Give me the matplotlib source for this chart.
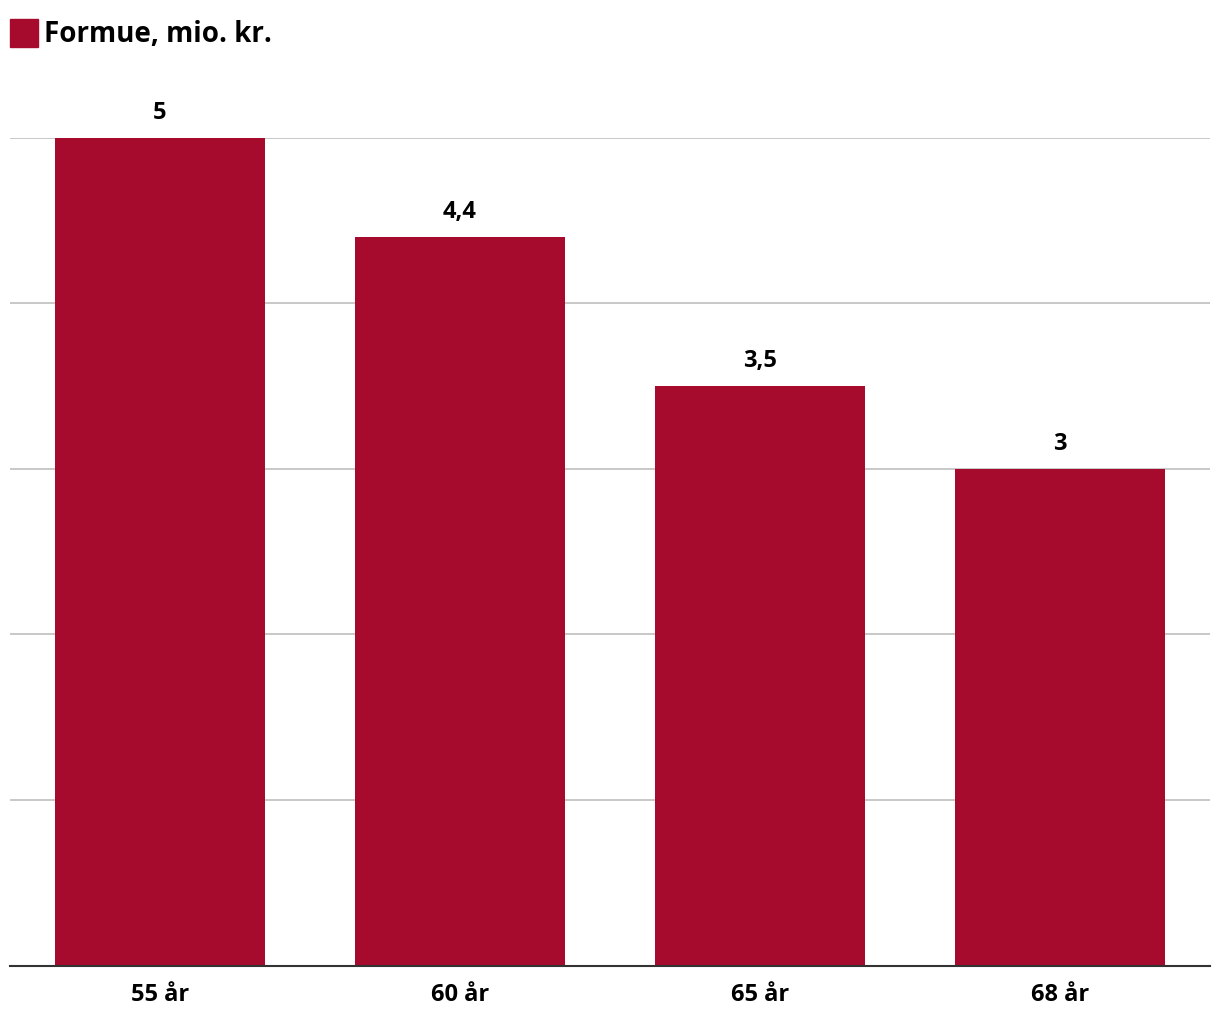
import os
import numpy as np
import matplotlib.pyplot as plt
from matplotlib.patches import Rectangle
from matplotlib.font_manager import FontProperties

BOLD = '/usr/share/fonts/truetype/open-sans/OpenSans-Bold.ttf'


def font(size):
    if os.path.exists(BOLD):
        return FontProperties(fname=BOLD, size=size)
    return FontProperties(family=['Open Sans', 'DejaVu Sans'], weight='bold', size=size)


categories = ['55 år', '60 år', '65 år', '68 år']
values = [5, 4.4, 3.5, 3]
labels = ['5', '4,4', '3,5', '3']
series_name = 'Formue, mio. kr.'
bar_color = '#A60B2E'

fig = plt.figure(figsize=(12.2, 10.2), dpi=100)
ax = fig.add_axes([10 / 1220, 53.5 / 1020, 1200 / 1220, (965 - 137) / 1020])

x = np.arange(len(categories))
ax.bar(x, values, width=0.7, color=bar_color, zorder=2)

for xi, v, lab in zip(x, values, labels):
    ax.annotate(lab, (xi, v), xytext=(0, 10), textcoords='offset points',
                ha='center', va='bottom', fontproperties=font(17),
                annotation_clip=False)

ax.set_xlim(-0.5, len(categories) - 0.5)
ax.set_ylim(0, 5)
ax.set_yticks([0, 1, 2, 3, 4, 5])
ax.yaxis.grid(True, color='#bfbfbf', linewidth=1.2, zorder=0)
ax.set_yticklabels([])
ax.tick_params(axis='y', length=0)
ax.set_xticks(x)
ax.set_xticklabels(categories, fontproperties=font(17))
ax.tick_params(axis='x', length=0, pad=12)
for s in ['top', 'right', 'left']:
    ax.spines[s].set_visible(False)
ax.spines['bottom'].set_color('#333333')
ax.spines['bottom'].set_linewidth(1.5)
ax.spines['bottom'].set_zorder(3)

# legend
fig.patches.append(Rectangle((10 / 1220, 1 - 48 / 1020), 28 / 1220, 28 / 1020,
                             transform=fig.transFigure, color=bar_color))
fig.text(44 / 1220, 1 - 34 / 1020, series_name, fontproperties=font(20),
         va='center', ha='left')

fig.savefig('out.png', dpi=100)
